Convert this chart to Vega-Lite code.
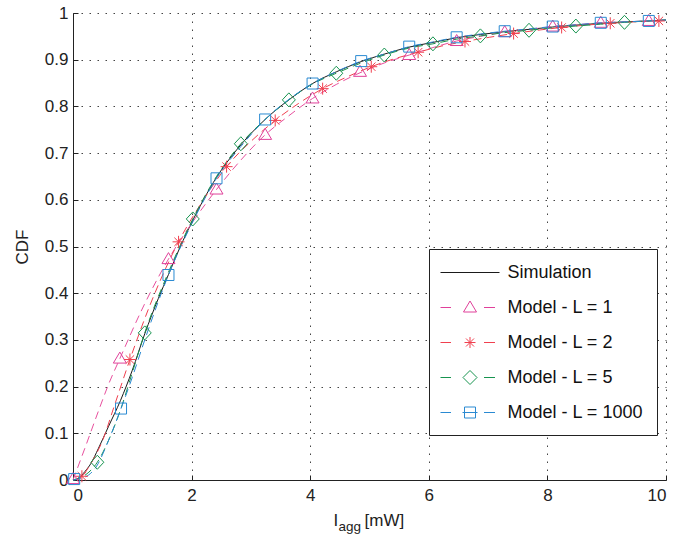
{
  "$schema": "https://vega.github.io/schema/vega-lite/v6.json",
  "width": 593,
  "height": 467,
  "autosize": "none",
  "padding": {"left": 73, "top": 13, "right": 25, "bottom": 57},
  "background": "white",
  "config": {
    "font": "Liberation Sans",
    "view": {"stroke": null},
    "axis": {
      "domainColor": "#222",
      "domainWidth": 1,
      "tickColor": "#222",
      "tickWidth": 1,
      "tickSize": -5,
      "labelColor": "#222",
      "labelFont": "Liberation Sans",
      "labelFontSize": 17,
      "titleFont": "Liberation Sans",
      "titleFontSize": 17,
      "titleFontWeight": "normal",
      "titleColor": "#222",
      "gridColor": "#444",
      "gridDash": [1.5, 6.5],
      "gridWidth": 1
    }
  },
  "datasets": {
    "lines": [
      {"series": "Simulation", "x": 0, "y": 0},
      {"series": "Simulation", "x": 0.1, "y": 0.005},
      {"series": "Simulation", "x": 0.2, "y": 0.018},
      {"series": "Simulation", "x": 0.3, "y": 0.035},
      {"series": "Simulation", "x": 0.43, "y": 0.068},
      {"series": "Simulation", "x": 0.6, "y": 0.115},
      {"series": "Simulation", "x": 0.8, "y": 0.17},
      {"series": "Simulation", "x": 1.0, "y": 0.235},
      {"series": "Simulation", "x": 1.21, "y": 0.313},
      {"series": "Simulation", "x": 1.44, "y": 0.389},
      {"series": "Simulation", "x": 1.61, "y": 0.44},
      {"series": "Simulation", "x": 1.8, "y": 0.497},
      {"series": "Simulation", "x": 2.02, "y": 0.556},
      {"series": "Simulation", "x": 2.2, "y": 0.6},
      {"series": "Simulation", "x": 2.42, "y": 0.648},
      {"series": "Simulation", "x": 2.76, "y": 0.707},
      {"series": "Simulation", "x": 3.24, "y": 0.772},
      {"series": "Simulation", "x": 3.64, "y": 0.814},
      {"series": "Simulation", "x": 4.04, "y": 0.849},
      {"series": "Simulation", "x": 4.44, "y": 0.874},
      {"series": "Simulation", "x": 4.86, "y": 0.896},
      {"series": "Simulation", "x": 5.25, "y": 0.912},
      {"series": "Simulation", "x": 5.67, "y": 0.927},
      {"series": "Simulation", "x": 6.07, "y": 0.937},
      {"series": "Simulation", "x": 6.47, "y": 0.947},
      {"series": "Simulation", "x": 6.87, "y": 0.954},
      {"series": "Simulation", "x": 7.28, "y": 0.96},
      {"series": "Simulation", "x": 7.69, "y": 0.965},
      {"series": "Simulation", "x": 8.09, "y": 0.97},
      {"series": "Simulation", "x": 8.48, "y": 0.974},
      {"series": "Simulation", "x": 8.9, "y": 0.978},
      {"series": "Simulation", "x": 9.3, "y": 0.981},
      {"series": "Simulation", "x": 9.71, "y": 0.983},
      {"series": "Simulation", "x": 10, "y": 0.985},

      {"series": "Model - L = 1", "x": 0, "y": 0},
      {"series": "Model - L = 1", "x": 0.2, "y": 0.068},
      {"series": "Model - L = 1", "x": 0.43, "y": 0.148},
      {"series": "Model - L = 1", "x": 0.6, "y": 0.205},
      {"series": "Model - L = 1", "x": 0.79, "y": 0.26},
      {"series": "Model - L = 1", "x": 1.2, "y": 0.375},
      {"series": "Model - L = 1", "x": 1.61, "y": 0.473},
      {"series": "Model - L = 1", "x": 2.02, "y": 0.553},
      {"series": "Model - L = 1", "x": 2.42, "y": 0.622},
      {"series": "Model - L = 1", "x": 2.83, "y": 0.685},
      {"series": "Model - L = 1", "x": 3.24, "y": 0.739},
      {"series": "Model - L = 1", "x": 3.64, "y": 0.78},
      {"series": "Model - L = 1", "x": 4.04, "y": 0.817},
      {"series": "Model - L = 1", "x": 4.44, "y": 0.847},
      {"series": "Model - L = 1", "x": 4.84, "y": 0.872},
      {"series": "Model - L = 1", "x": 5.25, "y": 0.893},
      {"series": "Model - L = 1", "x": 5.67, "y": 0.91},
      {"series": "Model - L = 1", "x": 6.07, "y": 0.926},
      {"series": "Model - L = 1", "x": 6.47, "y": 0.94},
      {"series": "Model - L = 1", "x": 6.87, "y": 0.95},
      {"series": "Model - L = 1", "x": 7.28, "y": 0.959},
      {"series": "Model - L = 1", "x": 7.69, "y": 0.965},
      {"series": "Model - L = 1", "x": 8.09, "y": 0.971},
      {"series": "Model - L = 1", "x": 8.5, "y": 0.975},
      {"series": "Model - L = 1", "x": 8.9, "y": 0.979},
      {"series": "Model - L = 1", "x": 9.3, "y": 0.981},
      {"series": "Model - L = 1", "x": 9.71, "y": 0.983},
      {"series": "Model - L = 1", "x": 10, "y": 0.985},

      {"series": "Model - L = 2", "x": 0, "y": 0},
      {"series": "Model - L = 2", "x": 0.15, "y": 0.008},
      {"series": "Model - L = 2", "x": 0.3, "y": 0.035},
      {"series": "Model - L = 2", "x": 0.5, "y": 0.085},
      {"series": "Model - L = 2", "x": 0.7, "y": 0.16},
      {"series": "Model - L = 2", "x": 0.96, "y": 0.258},
      {"series": "Model - L = 2", "x": 1.3, "y": 0.375},
      {"series": "Model - L = 2", "x": 1.78, "y": 0.51},
      {"series": "Model - L = 2", "x": 2.2, "y": 0.6},
      {"series": "Model - L = 2", "x": 2.59, "y": 0.671},
      {"series": "Model - L = 2", "x": 3.0, "y": 0.725},
      {"series": "Model - L = 2", "x": 3.41, "y": 0.77},
      {"series": "Model - L = 2", "x": 3.8, "y": 0.806},
      {"series": "Model - L = 2", "x": 4.21, "y": 0.838},
      {"series": "Model - L = 2", "x": 4.62, "y": 0.863},
      {"series": "Model - L = 2", "x": 5.03, "y": 0.885},
      {"series": "Model - L = 2", "x": 5.42, "y": 0.902},
      {"series": "Model - L = 2", "x": 5.82, "y": 0.916},
      {"series": "Model - L = 2", "x": 6.21, "y": 0.929},
      {"series": "Model - L = 2", "x": 6.61, "y": 0.939},
      {"series": "Model - L = 2", "x": 7.02, "y": 0.948},
      {"series": "Model - L = 2", "x": 7.43, "y": 0.956},
      {"series": "Model - L = 2", "x": 7.83, "y": 0.963},
      {"series": "Model - L = 2", "x": 8.24, "y": 0.969},
      {"series": "Model - L = 2", "x": 8.65, "y": 0.974},
      {"series": "Model - L = 2", "x": 9.06, "y": 0.978},
      {"series": "Model - L = 2", "x": 9.47, "y": 0.981},
      {"series": "Model - L = 2", "x": 9.88, "y": 0.983},
      {"series": "Model - L = 2", "x": 10, "y": 0.984},

      {"series": "Model - L = 5", "x": 0, "y": 0},
      {"series": "Model - L = 5", "x": 0.2, "y": 0.01},
      {"series": "Model - L = 5", "x": 0.41, "y": 0.038},
      {"series": "Model - L = 5", "x": 0.6, "y": 0.085},
      {"series": "Model - L = 5", "x": 0.8, "y": 0.15},
      {"series": "Model - L = 5", "x": 1.0, "y": 0.23},
      {"series": "Model - L = 5", "x": 1.21, "y": 0.315},
      {"series": "Model - L = 5", "x": 1.61, "y": 0.445},
      {"series": "Model - L = 5", "x": 2.02, "y": 0.559},
      {"series": "Model - L = 5", "x": 2.42, "y": 0.65},
      {"series": "Model - L = 5", "x": 2.83, "y": 0.72},
      {"series": "Model - L = 5", "x": 3.24, "y": 0.772},
      {"series": "Model - L = 5", "x": 3.64, "y": 0.814},
      {"series": "Model - L = 5", "x": 4.04, "y": 0.848},
      {"series": "Model - L = 5", "x": 4.44, "y": 0.871},
      {"series": "Model - L = 5", "x": 4.86, "y": 0.893},
      {"series": "Model - L = 5", "x": 5.25, "y": 0.91},
      {"series": "Model - L = 5", "x": 5.67, "y": 0.925},
      {"series": "Model - L = 5", "x": 6.07, "y": 0.934},
      {"series": "Model - L = 5", "x": 6.47, "y": 0.944},
      {"series": "Model - L = 5", "x": 6.87, "y": 0.951},
      {"series": "Model - L = 5", "x": 7.28, "y": 0.958},
      {"series": "Model - L = 5", "x": 7.69, "y": 0.963},
      {"series": "Model - L = 5", "x": 8.09, "y": 0.968},
      {"series": "Model - L = 5", "x": 8.48, "y": 0.972},
      {"series": "Model - L = 5", "x": 8.9, "y": 0.976},
      {"series": "Model - L = 5", "x": 9.3, "y": 0.98},
      {"series": "Model - L = 5", "x": 9.71, "y": 0.983},
      {"series": "Model - L = 5", "x": 10, "y": 0.985},

      {"series": "Model - L = 1000", "x": 0, "y": 0},
      {"series": "Model - L = 1000", "x": 0.2, "y": 0.006},
      {"series": "Model - L = 1000", "x": 0.4, "y": 0.03},
      {"series": "Model - L = 1000", "x": 0.6, "y": 0.085},
      {"series": "Model - L = 1000", "x": 0.81, "y": 0.153},
      {"series": "Model - L = 1000", "x": 1.0, "y": 0.22},
      {"series": "Model - L = 1000", "x": 1.21, "y": 0.3},
      {"series": "Model - L = 1000", "x": 1.61, "y": 0.439},
      {"series": "Model - L = 1000", "x": 2.02, "y": 0.553},
      {"series": "Model - L = 1000", "x": 2.42, "y": 0.646},
      {"series": "Model - L = 1000", "x": 2.83, "y": 0.714},
      {"series": "Model - L = 1000", "x": 3.24, "y": 0.772},
      {"series": "Model - L = 1000", "x": 3.64, "y": 0.815},
      {"series": "Model - L = 1000", "x": 4.04, "y": 0.849},
      {"series": "Model - L = 1000", "x": 4.45, "y": 0.875},
      {"series": "Model - L = 1000", "x": 4.86, "y": 0.897},
      {"series": "Model - L = 1000", "x": 5.25, "y": 0.912},
      {"series": "Model - L = 1000", "x": 5.67, "y": 0.928},
      {"series": "Model - L = 1000", "x": 6.07, "y": 0.938},
      {"series": "Model - L = 1000", "x": 6.47, "y": 0.948},
      {"series": "Model - L = 1000", "x": 6.87, "y": 0.955},
      {"series": "Model - L = 1000", "x": 7.28, "y": 0.961},
      {"series": "Model - L = 1000", "x": 7.69, "y": 0.966},
      {"series": "Model - L = 1000", "x": 8.09, "y": 0.971},
      {"series": "Model - L = 1000", "x": 8.5, "y": 0.975},
      {"series": "Model - L = 1000", "x": 8.9, "y": 0.979},
      {"series": "Model - L = 1000", "x": 9.3, "y": 0.981},
      {"series": "Model - L = 1000", "x": 9.71, "y": 0.983},
      {"series": "Model - L = 1000", "x": 10, "y": 0.985}
    ],
    "markers": [
      {"series": "Model - L = 1", "x": 0, "y": 0.002},
      {"series": "Model - L = 1", "x": 0.79, "y": 0.26},
      {"series": "Model - L = 1", "x": 1.61, "y": 0.473},
      {"series": "Model - L = 1", "x": 2.42, "y": 0.622},
      {"series": "Model - L = 1", "x": 3.24, "y": 0.739},
      {"series": "Model - L = 1", "x": 4.04, "y": 0.817},
      {"series": "Model - L = 1", "x": 4.84, "y": 0.874},
      {"series": "Model - L = 1", "x": 5.67, "y": 0.91},
      {"series": "Model - L = 1", "x": 6.47, "y": 0.94},
      {"series": "Model - L = 1", "x": 7.28, "y": 0.959},
      {"series": "Model - L = 1", "x": 8.09, "y": 0.971},
      {"series": "Model - L = 1", "x": 8.9, "y": 0.979},
      {"series": "Model - L = 1", "x": 9.71, "y": 0.983},

      {"series": "Model - L = 2", "x": 0.15, "y": 0.008},
      {"series": "Model - L = 2", "x": 0.96, "y": 0.258},
      {"series": "Model - L = 2", "x": 1.78, "y": 0.51},
      {"series": "Model - L = 2", "x": 2.59, "y": 0.671},
      {"series": "Model - L = 2", "x": 3.41, "y": 0.77},
      {"series": "Model - L = 2", "x": 4.21, "y": 0.838},
      {"series": "Model - L = 2", "x": 5.03, "y": 0.885},
      {"series": "Model - L = 2", "x": 5.82, "y": 0.916},
      {"series": "Model - L = 2", "x": 6.61, "y": 0.939},
      {"series": "Model - L = 2", "x": 7.43, "y": 0.956},
      {"series": "Model - L = 2", "x": 8.24, "y": 0.969},
      {"series": "Model - L = 2", "x": 9.06, "y": 0.978},
      {"series": "Model - L = 2", "x": 9.88, "y": 0.983},

      {"series": "Model - L = 5", "x": 0.41, "y": 0.038},
      {"series": "Model - L = 5", "x": 1.21, "y": 0.315},
      {"series": "Model - L = 5", "x": 2.02, "y": 0.559},
      {"series": "Model - L = 5", "x": 2.83, "y": 0.72},
      {"series": "Model - L = 5", "x": 3.64, "y": 0.814},
      {"series": "Model - L = 5", "x": 4.44, "y": 0.871},
      {"series": "Model - L = 5", "x": 5.25, "y": 0.91},
      {"series": "Model - L = 5", "x": 6.07, "y": 0.934},
      {"series": "Model - L = 5", "x": 6.87, "y": 0.951},
      {"series": "Model - L = 5", "x": 7.69, "y": 0.963},
      {"series": "Model - L = 5", "x": 8.48, "y": 0.972},
      {"series": "Model - L = 5", "x": 9.3, "y": 0.98},

      {"series": "Model - L = 1000", "x": 0.02, "y": 0.002},
      {"series": "Model - L = 1000", "x": 0.81, "y": 0.153},
      {"series": "Model - L = 1000", "x": 1.61, "y": 0.439},
      {"series": "Model - L = 1000", "x": 2.42, "y": 0.646},
      {"series": "Model - L = 1000", "x": 3.24, "y": 0.772},
      {"series": "Model - L = 1000", "x": 4.04, "y": 0.849},
      {"series": "Model - L = 1000", "x": 4.86, "y": 0.897},
      {"series": "Model - L = 1000", "x": 5.67, "y": 0.928},
      {"series": "Model - L = 1000", "x": 6.47, "y": 0.948},
      {"series": "Model - L = 1000", "x": 7.28, "y": 0.961},
      {"series": "Model - L = 1000", "x": 8.09, "y": 0.971},
      {"series": "Model - L = 1000", "x": 8.9, "y": 0.979},
      {"series": "Model - L = 1000", "x": 9.71, "y": 0.983}
    ]
  },
  "layer": [
    {
      "data": {"name": "lines"},
      "transform": [{"filter": "datum.series === 'Simulation'"}],
      "mark": {"type": "line", "color": "#1a1a1a", "strokeWidth": 1, "interpolate": "monotone"},
      "encoding": {
        "x": {
          "field": "x", "type": "quantitative",
          "scale": {"domain": [0, 10], "nice": false, "zero": false},
          "axis": {
            "orient": "bottom",
            "values": [0, 2, 4, 6, 8, 10],
            "format": "d",
            "labelPadding": 12,
            "grid": true,
            "title": "I",
            "titleX": 260,
            "titleY": 45,
            "titleAlign": "left",
            "titleBaseline": "alphabetic",
            "titleAngle": 0
          }
        },
        "y": {
          "field": "y", "type": "quantitative",
          "scale": {"domain": [0, 1], "nice": false},
          "axis": {
            "values": [0, 0.1, 0.2, 0.3, 0.4, 0.5, 0.6, 0.7, 0.8, 0.9, 1],
            "format": "~g",
            "labelPadding": 10,
            "grid": true,
            "title": "CDF",
            "titleX": -51,
            "titleY": 233.5,
            "titleAngle": -90,
            "titleAlign": "center",
            "titleBaseline": "middle"
          }
        }
      }
    },
    {
      "data": {"name": "lines"},
      "transform": [{"filter": "datum.series !== 'Simulation'"}],
      "mark": {"type": "line", "strokeWidth": 1, "strokeDash": [8, 5], "interpolate": "monotone"},
      "encoding": {
        "x": {
          "field": "x", "type": "quantitative",
          "axis": {
            "orient": "bottom",
            "title": "agg",
            "labels": false,
            "ticks": false,
            "domain": false,
            "grid": false,
            "titleFontSize": 13.5,
            "titleX": 265,
            "titleY": 50,
            "titleAlign": "left",
            "titleBaseline": "alphabetic",
            "titleAngle": 0
          }
        },
        "y": {"field": "y", "type": "quantitative"},
        "color": {
          "field": "series", "type": "nominal",
          "scale": {
            "domain": ["Model - L = 1", "Model - L = 2", "Model - L = 5", "Model - L = 1000"],
            "range": ["#e8509e", "#f0404f", "#17944f", "#2a8ad2"]
          },
          "legend": null
        }
      }
    },
    {
      "data": {"name": "markers"},
      "mark": {"type": "point", "filled": false, "strokeWidth": 1, "opacity": 1, "size": 400},
      "encoding": {
        "x": {
          "field": "x", "type": "quantitative",
          "axis": {
            "orient": "bottom",
            "title": "[mW]",
            "labels": false,
            "ticks": false,
            "domain": false,
            "grid": false,
            "titleX": 291,
            "titleY": 45,
            "titleAlign": "left",
            "titleBaseline": "alphabetic",
            "titleAngle": 0
          }
        },
        "y": {"field": "y", "type": "quantitative"},
        "color": {
          "field": "series", "type": "nominal",
          "scale": {
            "domain": ["Model - L = 1", "Model - L = 2", "Model - L = 5", "Model - L = 1000"],
            "range": ["#e0409a", "#f0404f", "#17944f", "#2a8ad2"]
          },
          "legend": null
        },
        "shape": {
          "field": "series", "type": "nominal",
          "scale": {
            "domain": ["Model - L = 1", "Model - L = 2", "Model - L = 5", "Model - L = 1000"],
            "range": [
              "M-0.65,0.45L0,-0.65L0.65,0.45Z",
              "M-0.6,0H0.6M0,-0.6V0.6M-0.42,-0.42L0.42,0.42M-0.42,0.42L0.42,-0.42",
              "M0,-0.7L0.65,0L0,0.7L-0.65,0Z",
              "M-0.55,-0.55H0.55V0.55H-0.55Z"
            ]
          },
          "legend": null
        }
      }
    },
    {
      "data": {"values": []},
      "mark": {"type": "point", "filled": false, "strokeWidth": 1, "opacity": 1, "size": 400},
      "encoding": {
        "color": {
          "field": "entry", "type": "nominal",
          "scale": {
            "domain": ["Simulation", "Model - L = 1", "Model - L = 2", "Model - L = 5", "Model - L = 1000"],
            "range": ["#1a1a1a", "#e0409a", "#f0404f", "#17944f", "#2a8ad2"]
          },
          "legend": {
            "orient": "none", "legendX": 356, "legendY": 236, "title": null,
            "strokeColor": "#222", "fillColor": "white", "padding": 13, "rowPadding": 15,
            "labelFontSize": 18, "labelFont": "Liberation Sans", "labelColor": "#111", "labelLimit": 400,
            "symbolSize": 400, "symbolOffset": 17.5, "labelOffset": 27, "symbolStrokeWidth": 1, "symbolOpacity": 1
          }
        },
        "shape": {
          "field": "entry", "type": "nominal",
          "scale": {
            "domain": ["Simulation", "Model - L = 1", "Model - L = 2", "Model - L = 5", "Model - L = 1000"],
            "range": [
              "M-2.95,0H2.95",
              "M-2.95,0H-1.9M1.4,0H2.5M-0.65,0.45L0,-0.65L0.65,0.45Z",
              "M-2.95,0H-1.9M1.4,0H2.5M-0.55,0H0.55M0,-0.55V0.55M-0.4,-0.4L0.4,0.4M-0.4,0.4L0.4,-0.4",
              "M-2.95,0H-1.9M1.4,0H2.5M0,-0.7L0.7,0L0,0.7L-0.7,0Z",
              "M-2.95,0H-1.9M1.4,0H2.5M-0.75,0H0.75M-0.55,-0.55H0.55V0.55H-0.55Z"
            ]
          },
          "legend": {
            "orient": "none", "legendX": 356, "legendY": 236, "title": null,
            "strokeColor": "#222", "fillColor": "white", "padding": 13, "rowPadding": 15,
            "labelFontSize": 18, "labelFont": "Liberation Sans", "labelColor": "#111", "labelLimit": 400,
            "symbolSize": 400, "symbolOffset": 17.5, "labelOffset": 27, "symbolStrokeWidth": 1, "symbolOpacity": 1
          }
        }
      }
    }
  ],
  "resolve": {
    "scale": {"color": "independent", "shape": "independent"},
    "axis": {"x": "independent"}
  }
}
